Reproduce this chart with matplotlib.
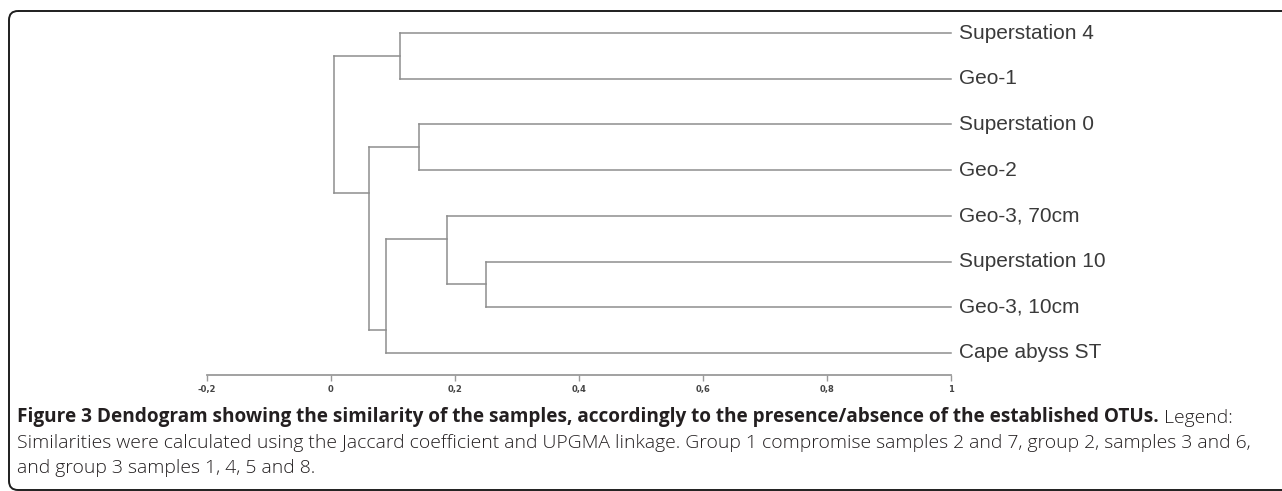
import matplotlib
matplotlib.use("Agg")
import matplotlib.pyplot as plt
from matplotlib.patches import FancyBboxPatch

## data
leaves = ["Superstation 4", "Geo-1", "Superstation 0", "Geo-2",
          "Geo-3, 70cm", "Superstation 10", "Geo-3, 10cm", "Cape abyss ST"]
# merges numbered 8..14 after the 8 leaves (scipy style)
merge_children = [(0, 1), (2, 3), (5, 6), (4, 10), (11, 7), (9, 12), (8, 13)]
merge_height = [0.111, 0.142, 0.250, 0.187, 0.089, 0.061, 0.005]
merge_pos = [0.5, 2.5, 5.5, 4.5, 6.5, 3.5, 2.0]
x_ticks = [-0.2, 0, 0.2, 0.4, 0.6, 0.8, 1.0]
x_tick_labels = ["-0,2", "0", "0,2", "0,4", "0,6", "0,8", "1"]

caption_bold = ("Figure 3 Dendogram showing the similarity of the samples, "
                "accordingly to the presence/absence of the established OTUs.")
caption_rest = [" Legend:",
                "Similarities were calculated using the Jaccard coefficient and UPGMA linkage. "
                "Group 1 compromise samples 2 and 7, group 2, samples 3 and 6,",
                "and group 3 samples 1, 4, 5 and 8."]

W, H = 1282, 491
fig = plt.figure(figsize=(W / 100, H / 100), dpi=100)

## frame (pixel coords)
bg = fig.add_axes([0, 0, 1, 1])
bg.set_xlim(0, W)
bg.set_ylim(H, 0)
bg.axis("off")
frame = FancyBboxPatch((9, 11), 1300, 479,
                       boxstyle="round,pad=0,rounding_size=9",
                       fill=False, edgecolor="#1e1e1e", linewidth=1.4)
bg.add_patch(frame)

## dendrogram axes
x0, x1 = 207, 951      # pixel x of -0.2 and 1
ytop, ybot = 33, 375   # pixel y of leaf 0 and axis line
step = 45.71
ax = fig.add_axes([x0 / W, (H - ybot) / H, (x1 - x0) / W, (ybot - ytop) / H])
ax.set_xlim(-0.2, 1.0)
ax.set_ylim((ybot - ytop) / step, 0)

lc = "#8e8e8e"
node_x = {i: 1.0 for i in range(len(leaves))}
node_y = {i: float(i) for i in range(len(leaves))}
for k, (a, b) in enumerate(merge_children):
    h = merge_height[k]
    ax.plot([h, h], [node_y[a], node_y[b]], color=lc, lw=1.1, clip_on=False)
    for c in (a, b):
        ax.plot([h, node_x[c]], [node_y[c], node_y[c]], color=lc, lw=1.1, clip_on=False)
    node_x[len(leaves) + k] = h
    node_y[len(leaves) + k] = merge_pos[k]

for i, name in enumerate(leaves):
    ax.annotate(name, xy=(1.0, i), xytext=(6, 0), textcoords="offset points",
                va="center", ha="left", fontsize=15, color="#3a3a3a",
                family="Liberation Sans", annotation_clip=False)

for s in ["top", "right", "left"]:
    ax.spines[s].set_visible(False)
ax.spines["bottom"].set_color("#9a9a9a")
ax.spines["bottom"].set_linewidth(1.3)
ax.set_yticks([])
ax.set_xticks(x_ticks)
ax.set_xticklabels(x_tick_labels, fontsize=6, color="#444444",
                   family=["Liberation Sans Narrow", "DejaVu Sans"], fontweight="bold")
ax.tick_params(axis="x", length=4, width=1, color="#9a9a9a", pad=3)
ax.patch.set_alpha(0)

## caption
cfam = ["Open Sans", "DejaVu Sans"]
cs_bold = 13.65
cs_light = 13.95
ccol = "#231f20"
t1 = fig.text(17 / W, 1 - 422 / H, caption_bold, fontsize=cs_bold, fontweight="bold",
              family=cfam, color=ccol, va="baseline")
bg.annotate(caption_rest[0], xy=(1, 0), xycoords=t1, va="bottom", ha="left",
            fontsize=cs_light, fontweight="light", family=cfam, color=ccol)
fig.text(17 / W, 1 - 448 / H, caption_rest[1], fontsize=cs_light, fontweight="light",
         family=cfam, color=ccol, va="baseline")
fig.text(17 / W, 1 - 473 / H, caption_rest[2], fontsize=cs_light, fontweight="light",
         family=cfam, color=ccol, va="baseline")

fig.savefig("out.png", dpi=100)
